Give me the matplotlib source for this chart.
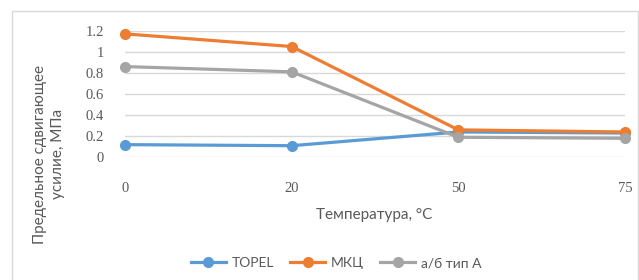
import matplotlib.pyplot as plt
from matplotlib.patches import Rectangle
from matplotlib.lines import Line2D

# data
temps = ['0', '20', '50', '75']
topel = [0.12, 0.11, 0.24, 0.23]
mkc = [1.17, 1.05, 0.26, 0.24]
ab_a = [0.86, 0.81, 0.19, 0.18]
series_names = ['TOPEL', 'МКЦ', 'а/б тип А']
colors = ['#5B9BD5', '#ED7D31', '#A5A5A5']
y_ticks = [0, 0.2, 0.4, 0.6, 0.8, 1, 1.2]
y_tick_labels = ['0', '0.2', '0.4', '0.6', '0.8', '1', '1.2']

plt.rcParams['font.family'] = ['Lato', 'DejaVu Sans']

fig = plt.figure(figsize=(6.39, 2.8), dpi=100)
# light chart border
fig.patches.append(Rectangle((12 / 639, -0.1), 626 / 639, 1 - 11 / 280 + 0.1,
                             transform=fig.transFigure, fill=False,
                             edgecolor='#D9D9D9', linewidth=1))

ax = fig.add_axes([125 / 639, 1 - 157.3 / 280, 500 / 639, 126.6 / 280])
x = list(range(len(temps)))
for vals, name, c in zip([topel, mkc, ab_a], series_names, colors):
    ax.plot(x, vals, color=c, linewidth=2.3, marker='o', markersize=7,
            label=name, clip_on=False, zorder=3)

ax.set_xlim(0, len(temps) - 1)
ax.set_ylim(0, 1.2)
ax.set_yticks(y_ticks)
ax.set_yticklabels(y_tick_labels, family='Liberation Serif', fontsize=10.5,
                   color='#595959')
ax.set_xticks(x)
ax.set_xticklabels(temps, family='Liberation Serif', fontsize=10.5,
                   color='#595959')
ax.tick_params(axis='y', length=0, pad=15)
ax.tick_params(axis='x', length=0, pad=18)
ax.grid(axis='y', color='#D9D9D9', linewidth=1)
for s in ax.spines.values():
    s.set_visible(False)

fig.text(374 / 639, 1 - 215 / 280, 'Температура, °C', ha='center', va='center',
         fontsize=11, color='#595959')
fig.text(49 / 639, 1 - 154 / 280, 'Предельное сдвигающее\nусилие, МПа',
         ha='center', va='center', rotation=90, fontsize=11, color='#595959',
         linespacing=1.3)

handles = [Line2D([], [], color=c, linewidth=2.3, marker='o', markersize=7)
           for c in colors]
fig.legend(handles, series_names, loc='center', bbox_to_anchor=(336 / 639, 1 - 263 / 280),
           ncol=3, frameon=False, fontsize=10, labelcolor='#595959',
           handlelength=2.5, columnspacing=1.2, handletextpad=0.4)

fig.savefig('out.png', dpi=100)
